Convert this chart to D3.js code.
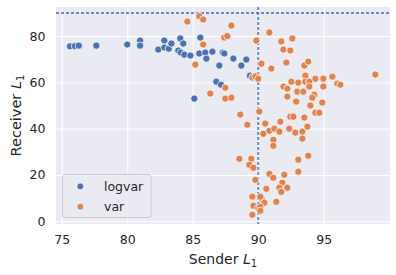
<!DOCTYPE html>
<html lang="en">
<head>
    <meta charset="UTF-8">
    <script src="https://d3js.org/d3.v7.min.js"></script>
    <style>
        body { margin: 0; background: #fff; }
        text { font-family: "DejaVu Sans", sans-serif; fill: #262626; }
    </style>
</head>
<body>
    <div id="container"></div>
    <script>
        // data: [sender L1, receiver L1]
        const logvarPoints = [
            [75.63, 75.6], [76.0, 75.7], [76.3, 75.9], [77.64, 75.9], [80.0, 76.4], [80.98, 78.1],
            [80.98, 75.9], [82.37, 74.2], [82.83, 78.1], [82.83, 75.1], [83.17, 74.6], [83.37, 76.8],
            [84.05, 79.0], [84.28, 76.8], [83.9, 73.8], [84.08, 72.9], [84.36, 72.0], [84.82, 71.6],
            [85.5, 72.5], [85.58, 79.4], [85.96, 72.9], [86.04, 70.3], [86.5, 73.3], [87.03, 67.3],
            [87.29, 72.9], [87.41, 72.5], [88.1, 70.3], [88.71, 67.3], [89.09, 69.9], [86.8, 60.3],
            [87.16, 59.0], [85.12, 53.0], [89.37, 62.9], [89.63, 62.3]
        ];
        const varPoints = [
            [84.59, 86.3], [85.5, 88.6], [85.8, 87.2], [87.95, 84.6], [87.41, 79.4], [87.64, 80.0],
            [85.8, 76.4], [90.85, 81.6], [89.85, 78.1], [85.2, 67.7], [90.24, 68.1], [91.0, 66.0],
            [89.55, 62.1], [89.78, 62.6], [90.0, 61.6], [87.49, 57.7], [86.34, 55.2], [87.49, 53.0],
            [87.95, 53.4], [88.63, 46.1], [90.08, 47.4],
            [91.76, 77.7], [92.6, 79.0], [91.92, 74.2], [92.45, 73.8], [92.15, 68.6], [93.52, 67.3],
            [93.82, 69.0], [93.6, 62.9], [92.53, 60.3], [93.06, 59.9], [93.6, 60.3], [93.9, 60.3],
            [94.36, 61.6], [94.97, 61.6], [95.66, 62.5], [96.04, 59.5], [96.27, 59.0], [98.94, 63.4],
            [91.92, 58.2], [92.22, 57.3], [93.9, 58.2], [94.97, 58.2], [92.98, 56.0], [93.44, 56.0],
            [92.22, 53.9], [94.28, 54.7], [94.13, 53.4], [92.9, 51.7], [94.89, 51.3], [93.98, 50.0],
            [94.36, 46.9], [94.66, 46.9], [92.45, 45.2], [92.68, 45.2], [93.52, 44.8],
            [91.69, 43.0], [90.54, 42.2], [93.75, 40.9], [90.85, 39.1], [91.23, 40.0], [91.61, 38.7],
            [92.37, 40.0], [90.39, 37.8], [92.83, 38.3], [93.37, 38.7], [91.15, 35.2], [93.37, 35.7],
            [91.15, 32.6], [93.82, 28.3], [93.06, 26.6], [93.06, 21.4], [90.85, 20.5], [91.15, 18.8],
            [91.99, 20.1], [91.84, 16.6], [90.62, 14.0], [91.61, 14.5], [92.22, 14.5], [91.76, 12.7],
            [90.31, 9.3], [91.38, 8.4],
            [89.17, 41.7], [88.56, 27.0], [89.47, 27.0], [89.32, 24.4], [89.63, 23.1], [89.78, 17.9],
            [89.55, 10.6], [90.16, 10.6], [90.47, 8.0], [89.63, 6.7], [90.0, 5.8], [90.16, 6.2],
            [90.16, 4.5], [89.55, 2.8]
        ];
        const xTicks = [75, 80, 85, 90, 95];
        const yTicks = [0, 20, 40, 60, 80];
        const refX = 90, refY = 90;
        const series = ["logvar", "var"];
        const colors = ["#4c72b0", "#dd8452"];

        const width = 396, height = 275;
        const margin = { left: 56, right: 6, top: 7, bottom: 51 };

        const svg = d3.select("#container")
            .append("svg")
            .attr("width", width)
            .attr("height", height);

        const x = d3.scaleLinear()
            .domain([74.56, 100.06])
            .range([margin.left, width - margin.right]);
        const y = d3.scaleLinear()
            .domain([-1.2, 92.6])
            .range([height - margin.bottom, margin.top]);

        // background
        svg.append("rect")
            .attr("x", margin.left)
            .attr("y", margin.top)
            .attr("width", width - margin.left - margin.right)
            .attr("height", height - margin.top - margin.bottom)
            .attr("fill", "#eaeaf2");

        // grid
        svg.append("g")
            .attr("transform", `translate(0,${height - margin.bottom})`)
            .call(d3.axisBottom(x).tickValues(xTicks).tickSize(-(height - margin.top - margin.bottom)).tickPadding(11))
            .call(g => g.select(".domain").remove())
            .call(g => g.selectAll("line").attr("stroke", "#fff").attr("stroke-width", 1))
            .call(g => g.selectAll("text").attr("font-size", 12.5).attr("fill", "#262626"));
        svg.append("g")
            .attr("transform", `translate(${margin.left},0)`)
            .call(d3.axisLeft(y).tickValues(yTicks).tickSize(-(width - margin.left - margin.right)).tickPadding(10.5))
            .call(g => g.select(".domain").remove())
            .call(g => g.selectAll("line").attr("stroke", "#fff").attr("stroke-width", 1))
            .call(g => g.selectAll("text").attr("font-size", 12.5).attr("fill", "#262626"));

        // reference lines
        svg.append("line")
            .attr("x1", margin.left).attr("x2", width - margin.right)
            .attr("y1", y(refY)).attr("y2", y(refY))
            .attr("stroke", "#4c72b0").attr("stroke-opacity", 0.8)
            .attr("stroke-width", 2).attr("stroke-dasharray", "3 2");
        svg.append("line")
            .attr("x1", x(refX)).attr("x2", x(refX))
            .attr("y1", margin.top).attr("y2", height - margin.bottom)
            .attr("stroke", "#4c72b0").attr("stroke-opacity", 0.8)
            .attr("stroke-width", 2).attr("stroke-dasharray", "3 2");

        // points
        [logvarPoints, varPoints].forEach((pts, i) => {
            svg.append("g")
                .selectAll("circle")
                .data(pts)
                .enter()
                .append("circle")
                .attr("cx", d => x(d[0]))
                .attr("cy", d => y(d[1]))
                .attr("r", 3.6)
                .attr("fill", colors[i])
                .attr("stroke", "#fff")
                .attr("stroke-width", 0.7);
        });

        // legend
        const legend = svg.append("g");
        legend.append("rect")
            .attr("x", 62.5).attr("y", 174.5)
            .attr("width", 88.5).attr("height", 43)
            .attr("rx", 3)
            .attr("fill", "#eaeaf2").attr("fill-opacity", 0.8)
            .attr("stroke", "#cccccc").attr("stroke-width", 1);
        series.forEach((s, i) => {
            legend.append("circle")
                .attr("cx", 80.3).attr("cy", 186.3 + i * 20.4)
                .attr("r", 3.4)
                .attr("fill", colors[i]).attr("stroke", "#fff").attr("stroke-width", 0.7);
            legend.append("text")
                .attr("x", 104).attr("y", 186.3 + i * 20.4)
                .attr("dy", "0.35em")
                .attr("font-size", 12.5)
                .text(s);
        });

        // axis labels
        const xl = svg.append("text")
            .attr("x", (margin.left + width - margin.right) / 2)
            .attr("y", 263.5)
            .attr("text-anchor", "middle")
            .attr("font-size", 14);
        xl.append("tspan").text("Sender ");
        xl.append("tspan").attr("font-style", "italic").text("L");
        xl.append("tspan").attr("font-size", 10).attr("dy", 3).text("1");

        const yl = svg.append("text")
            .attr("transform", `translate(21,${(margin.top + height - margin.bottom) / 2}) rotate(-90)`)
            .attr("text-anchor", "middle")
            .attr("font-size", 14.5);
        yl.append("tspan").text("Receiver ");
        yl.append("tspan").attr("font-style", "italic").text("L");
        yl.append("tspan").attr("font-size", 10).attr("dy", 3).text("1");
    </script>
</body>
</html>
